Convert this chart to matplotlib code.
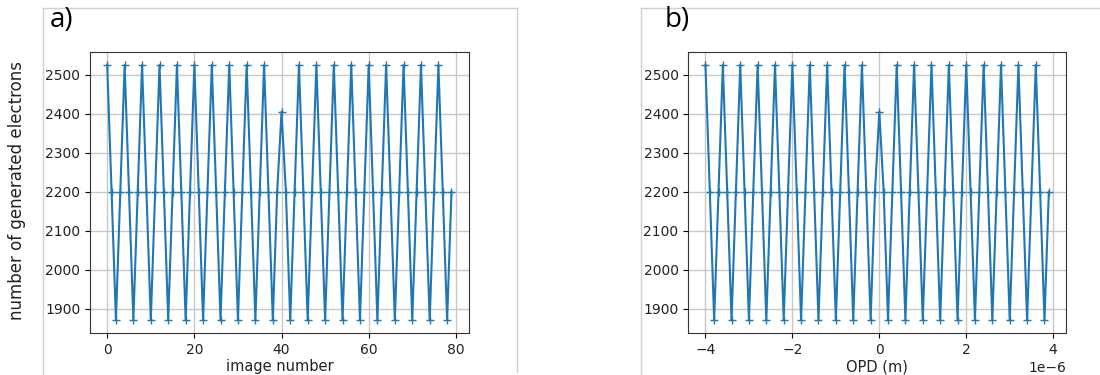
import numpy as np
import matplotlib
matplotlib.use("Agg")
import matplotlib.pyplot as plt
from matplotlib.lines import Line2D

# ---- data ----
image_number = list(range(80))
cycle_values = [2525, 2200, 1870, 2200]
electrons = [cycle_values[i % 4] for i in image_number]
electrons[40] = 2405
opd = [(-40 + i) * 1e-7 for i in image_number]

panel_labels = ["a)", "b)"]
x_labels = ["image number", "OPD (m)"]
y_label = "number of generated electrons"

W, H = 1100, 375
fig = plt.figure(figsize=(W / 100, H / 100), dpi=100)

def fx(px):
    return px / W

def fy(py):
    return 1 - py / H

ax_a = fig.add_axes([fx(90), fy(333), fx(468.7) - fx(90), fy(52.3) - fy(333)])
ax_b = fig.add_axes([fx(688.3), fy(333), fx(1066) - fx(688.3), fy(52.3) - fy(333)])

txt_color = "#222222"
for ax, x, xl in [(ax_a, image_number, x_labels[0]), (ax_b, opd, x_labels[1])]:
    ax.plot(x, electrons, color="#1f77b4", marker="+", linewidth=1.5, markersize=6)
    ax.grid(True, color="#c8c8c8", linewidth=1.0)
    ax.set_xlabel(xl, fontsize=10.5, labelpad=2, color=txt_color)
    ax.tick_params(labelsize=10, labelcolor=txt_color)
    ax.set_yticks([1900, 2000, 2100, 2200, 2300, 2400, 2500])
    ax.xaxis.get_offset_text().set_fontsize(10)
    ax.xaxis.get_offset_text().set_color(txt_color)
    for s in ax.spines.values():
        s.set_color("#333333")

ax_a.set_xticks([0, 20, 40, 60, 80])
ax_b.set_xticks([-4e-6, -2e-6, 0, 2e-6, 4e-6])
fig.text(fx(17), fy(190), y_label, rotation=90, ha="center", va="center",
         fontsize=12, color=txt_color)

# panel frames (composite figure borders)
fc = "#d0d0d0"
fig.add_artist(Line2D([fx(42.7), fx(42.7)], [fy(8.3), fy(375)], color=fc, lw=1))
fig.add_artist(Line2D([fx(42.7), fx(516.7)], [fy(8.3), fy(8.3)], color=fc, lw=1))
fig.add_artist(Line2D([fx(516.7), fx(516.7)], [fy(8.3), fy(372)], color=fc, lw=1))
fig.add_artist(Line2D([fx(640.7), fx(640.7)], [fy(8.3), fy(375)], color=fc, lw=1))
fig.add_artist(Line2D([fx(640.7), fx(1100)], [fy(8.3), fy(8.3)], color=fc, lw=1))

fig.text(fx(50), fy(20), panel_labels[0], ha="left", va="center", fontsize=20, family="Open Sans")
fig.text(fx(665), fy(20), panel_labels[1], ha="left", va="center", fontsize=20, family="Open Sans")

fig.savefig("out.png", dpi=100)
